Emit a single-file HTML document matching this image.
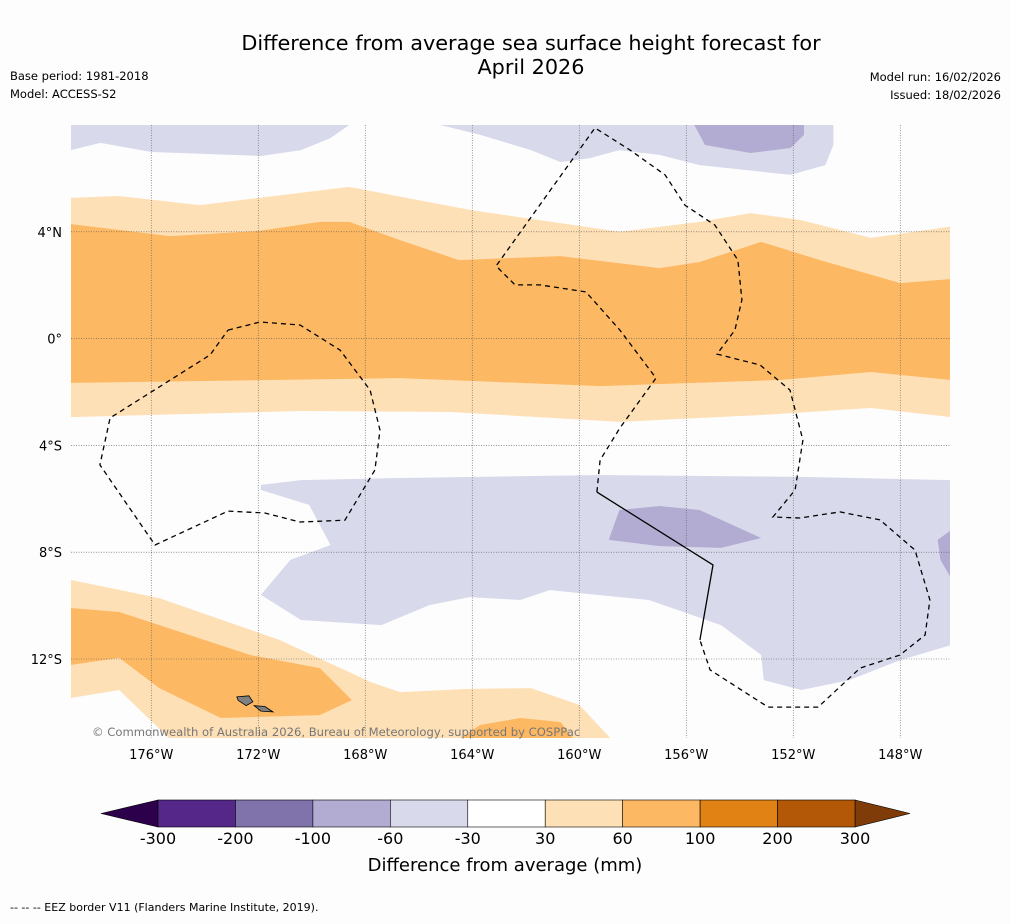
<!DOCTYPE html>
<html><head><meta charset="utf-8">
<style>
body{margin:0;background:#fdfdfd;font-family:"Liberation Sans","DejaVu Sans",sans-serif;}
svg text{font-family:"DejaVu Sans","Liberation Sans",sans-serif;}
</style></head>
<body>
<svg id="chart" width="1011" height="919" viewBox="0 0 1011 919" xmlns="http://www.w3.org/2000/svg">
<rect width="1011" height="919" fill="#fdfdfd"/>
<text x="531" y="50" text-anchor="middle" font-size="20.8">Difference from average sea surface height forecast for</text>
<text x="531" y="74" text-anchor="middle" font-size="20.8">April 2026</text>
<text x="10" y="80" font-size="11.5">Base period: 1981-2018</text>
<text x="10" y="98" font-size="11.5">Model: ACCESS-S2</text>
<text x="1001" y="81" text-anchor="end" font-size="11.5">Model run: 16/02/2026</text>
<text x="1001" y="99" text-anchor="end" font-size="11.5">Issued: 18/02/2026</text>
<g id="map"></g>
<g id="cbar"></g>
<text x="505" y="871" text-anchor="middle" font-size="18">Difference from average (mm)</text>
<text x="10" y="911" font-size="11">--  --  -- EEZ border V11 (Flanders Marine Institute, 2019).</text>
</svg>
<script>
const lonTicks=[-176,-172,-168,-164,-160,-156,-152,-148];
const latTicks=[4,0,-4,-8,-12];
const lonLabels=["176°W","172°W","168°W","164°W","160°W","156°W","152°W","148°W"];
const latLabels=["4°N","0°","4°S","8°S","12°S"];
const lightOrangeBand=[[-179,5.27],[-177.2,5.34],[-174.2,5.0],[-168.6,5.68],[-164.1,4.82],[-158.5,4.0],[-155.5,4.37],[-153.6,4.7],[-151.7,4.44],[-149.1,3.77],[-146.1,4.2],[-146.1,-2.94],[-149.1,-2.6],[-153.2,-2.86],[-158.5,-3.12],[-164.8,-2.75],[-170.4,-2.71],[-179,-2.94]];
const orangeBand=[[-179,4.29],[-175.3,3.84],[-172.0,4.03],[-169.7,4.37],[-168.6,4.37],[-166.7,3.69],[-164.5,2.94],[-160.7,3.09],[-157.0,2.64],[-155.5,2.87],[-153.2,3.62],[-151.0,2.94],[-148.0,2.08],[-146.1,2.23],[-146.1,-1.55],[-149.1,-1.25],[-152.5,-1.55],[-159.2,-1.78],[-166.7,-1.48],[-179,-1.66]];
const topLeftLav=[[-179,8],[-179,7.06],[-177.9,7.33],[-176.0,6.99],[-171.9,6.84],[-170.4,7.06],[-169.3,7.51],[-168.6,8]];
const topRightLav=[[-165.2,8],[-163.7,7.63],[-161.8,7.06],[-160.7,6.61],[-159.6,6.76],[-158.5,7.06],[-157.0,6.88],[-155.5,6.5],[-152.1,6.13],[-150.8,6.5],[-150.5,7.25],[-150.5,8]];
const topPurple=[[-155.7,8],[-155.3,7.25],[-153.6,6.95],[-152.1,7.14],[-151.6,7.63],[-151.6,8]];
const lowerLav=[[-171.9,-5.48],[-170.4,-5.30],[-166.7,-5.22],[-159.2,-5.11],[-151.7,-5.18],[-146.1,-5.30],[-146.1,-11.48],[-148.0,-12.04],[-149.9,-12.79],[-151.7,-13.16],[-153.1,-12.79],[-153.2,-11.85],[-154.7,-10.73],[-157.4,-9.79],[-161.1,-9.42],[-162.2,-9.79],[-164.1,-9.68],[-165.6,-9.98],[-167.4,-10.73],[-170.4,-10.54],[-171.9,-9.60],[-170.8,-8.29],[-169.3,-7.73],[-170.1,-6.23],[-171.9,-5.67]];
const rightPurple=[[-146.1,-7.17],[-146.6,-7.54],[-146.5,-8.29],[-146.1,-8.97]];
const midPurple=[[-158.5,-6.42],[-157.0,-6.27],[-155.5,-6.42],[-153.2,-7.47],[-154.7,-7.84],[-157.0,-7.77],[-158.9,-7.54]];
const bottomLightOrange=[[-179,-9.04],[-175.7,-9.72],[-171.2,-11.29],[-167.8,-12.86],[-166.7,-13.24],[-164.1,-13.12],[-161.8,-13.09],[-160.0,-13.72],[-158.8,-15],[-175.3,-15],[-177.2,-13.16],[-179,-13.46]];
const bottomOrange=[[-179,-10.09],[-177.2,-10.24],[-175.7,-10.73],[-172.3,-11.85],[-169.7,-12.34],[-168.5,-13.54],[-169.7,-14.1],[-173.4,-14.21],[-175.7,-13.09],[-177.2,-11.96],[-179,-12.22]];
const bottomOrangeBlob=[[-164.5,-15],[-163.7,-14.47],[-162.2,-14.21],[-160.7,-14.36],[-160.2,-15]];
const islandA=[[-172.8,-13.42],[-172.35,-13.38],[-172.2,-13.6],[-172.45,-13.75],[-172.75,-13.55]];
const islandB=[[-172.15,-13.75],[-171.75,-13.78],[-171.45,-13.98],[-171.9,-13.95]];
const eezLeft=[[-173.13,0.32],[-171.93,0.62],[-170.44,0.51],[-168.94,-0.43],[-167.82,-1.93],[-167.45,-3.43],[-167.64,-4.92],[-168.76,-6.80],[-170.44,-6.87],[-171.75,-6.53],[-173.13,-6.46],[-175.86,-7.73],[-177.92,-4.73],[-177.54,-2.97],[-173.80,-0.61],[-173.13,0.32]];
const eezRight=[[-159.34,-5.75],[-159.22,-4.55],[-158.48,-3.35],[-157.13,-1.48],[-158.48,0.32],[-159.75,1.75],[-161.47,2.01],[-162.40,2.01],[-163.11,2.72],[-159.41,7.89],[-158.10,7.06],[-156.79,6.13],[-156.05,5.00],[-154.93,4.25],[-154.07,2.94],[-153.92,1.45],[-154.18,0.32],[-154.85,-0.58],[-153.24,-0.99],[-152.12,-1.93],[-151.64,-3.80],[-151.93,-5.67],[-152.76,-6.68],[-151.75,-6.72],[-150.25,-6.49],[-148.76,-6.79],[-147.45,-7.92],[-146.89,-9.79],[-147.07,-11.10],[-148.01,-11.85],[-149.50,-12.34],[-151.07,-13.80],[-152.94,-13.80],[-155.11,-12.41],[-155.49,-11.29]];
const eezSolid=[[-155.49,-11.29],[-155.0,-8.48],[-159.34,-5.75]];
const cbarTicks=[-300,-200,-100,-60,-30,30,60,100,200,300];
const cbarColors=["#542788","#8073ac","#b2abd2","#d8daeb","#ffffff","#fee0b6","#fdb863","#e08214","#b35806"];

const NS="http://www.w3.org/2000/svg";
const X0=71,X1=950,Y0=125,Y1=738,LON0=-179,LAT0=8,K=26.75,KY=26.7;
const px=lon=>X0+(lon-LON0)*K;
const py=lat=>Y0+(LAT0-lat)*KY;
const map=document.getElementById('map');
function mk(tag,attrs,parent){const e=document.createElementNS(NS,tag);for(const k in attrs)e.setAttribute(k,attrs[k]);parent.appendChild(e);return e;}
const pts=a=>a.map(p=>px(p[0]).toFixed(1)+','+py(p[1]).toFixed(1)).join(' ');
const defs=mk('defs',{},map);
const cp=mk('clipPath',{id:'clip'},defs);
mk('rect',{x:X0,y:Y0,width:X1-X0,height:Y1-Y0},cp);
const g=mk('g',{'clip-path':'url(#clip)'},map);
function poly(arr,fill,name){
  const e=mk('polygon',{points:pts(arr),fill:fill},g);
  
  
}
poly(lightOrangeBand,'#fee0b6','contour-30-60-band');
poly(orangeBand,'#fdb863','contour-60-100-band');
poly(topLeftLav,'#d8daeb','contour-neg30-top-left');
poly(topRightLav,'#d8daeb','contour-neg30-top-right');
poly(topPurple,'#b2abd2','contour-neg60-top');
poly(lowerLav,'#d8daeb','contour-neg30-south');
poly(rightPurple,'#b2abd2','contour-neg60-east');
poly(midPurple,'#b2abd2','contour-neg60-mid');
poly(bottomLightOrange,'#fee0b6','contour-30-60-southwest');
poly(bottomOrange,'#fdb863','contour-60-100-southwest');
poly(bottomOrangeBlob,'#fdb863','contour-60-100-south');
[islandA,islandB].forEach((isl,i)=>{
  const e=mk('polygon',{points:pts(isl),fill:'#808080',stroke:'#000','stroke-width':0.8},g);
  
  
});
lonTicks.forEach((lon,i)=>{
  const l=mk('line',{x1:px(lon),x2:px(lon),y1:Y0,y2:Y1,stroke:'#555','stroke-width':0.6,'stroke-dasharray':'1,1.5'},map);
  
  
  const t=mk('text',{x:px(lon),y:759,'text-anchor':'middle','font-size':13},map);
  t.textContent=lonLabels[i];
  
  
});
latTicks.forEach((lat,i)=>{
  const l=mk('line',{x1:X0,x2:X1,y1:py(lat),y2:py(lat),stroke:'#555','stroke-width':0.6,'stroke-dasharray':'1,1.5'},map);
  
  
  const t=mk('text',{x:62,y:py(lat)+5,'text-anchor':'end','font-size':13},map);
  t.textContent=latLabels[i];
  
  
});
[eezLeft,eezRight].forEach(a=>{
  const e=mk('polyline',{points:pts(a),fill:'none',stroke:'#000','stroke-width':1.3,'stroke-dasharray':'5,4'},g);
  
  
});
const s=mk('polyline',{points:pts(eezSolid),fill:'none',stroke:'#000','stroke-width':1.3},g);


const cr=mk('text',{x:92,y:736,'font-size':11.6,fill:'#777'},map);
cr.textContent='© Commonwealth of Australia 2026, Bureau of Meteorology, supported by COSPPac';



const cb=document.getElementById('cbar');
const CB0=158,CB1=855,CY=800,CH=27;
const cx=i=>CB0+i*(CB1-CB0)/(cbarTicks.length-1);
const tl=mk('polygon',{points:`101,813.5 ${CB0},${CY} ${CB0},${CY+CH}`,fill:'#2d004b',stroke:'#000','stroke-width':0.6},cb);


const tr=mk('polygon',{points:`910,813.5 ${CB1},${CY} ${CB1},${CY+CH}`,fill:'#7f3b08',stroke:'#000','stroke-width':0.6},cb);


cbarColors.forEach((c,i)=>{
  const r=mk('rect',{x:cx(i),y:CY,width:cx(i+1)-cx(i),height:CH,fill:c,stroke:'#000','stroke-width':0.6},cb);
  
  
});
cbarTicks.forEach((v,i)=>{
  const t=mk('text',{x:cx(i),y:844,'text-anchor':'middle','font-size':16},cb);
  t.textContent=String(v);
  
  
});
</script>
</body></html>
